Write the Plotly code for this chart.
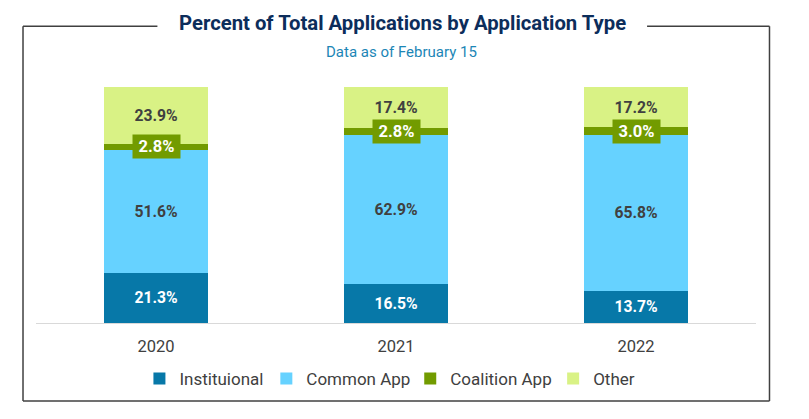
import plotly.graph_objects as go

years = ["2020", "2021", "2022"]
institutional = [21.3, 16.5, 13.7]
common_app = [51.6, 62.9, 65.8]
coalition_app = [2.8, 2.8, 3.0]
other = [23.9, 17.4, 17.2]

series_names = ["Instituional", "Common App", "Coalition App", "Other"]
colors = ["#0778a8", "#66d2ff", "#729b00", "#d9f285"]
label_colors = ["#ffffff", "#404040", "#ffffff", "#404040"]

# The page body adds an 8px offset, so the figure is placed accordingly
OFF = 8
W, H = 809 - OFF, 419 - OFF
L, R, T, B = 35.5 - OFF, 53, 86 - OFF, 96
pw = W - L - R
ph = H - T - B
FONT = "Roboto"

def px_x(p):
    return (p - OFF - L) / pw

def px_y(p):
    return (H - B - (p - OFF)) / ph

legend_ids = ["legend", "legend2", "legend3", "legend4"]
legend_text_starts = [179, 306, 450, 593]

fig = go.Figure()
all_series = [institutional, common_app, coalition_app, other]
for i, (name, vals) in enumerate(zip(series_names, all_series)):
    show_text = i != 2
    fig.add_trace(go.Bar(
        x=years, y=vals, name=name, legend=legend_ids[i],
        marker=dict(color=colors[i], line=dict(width=0)),
        text=[f"{v:.1f}%" for v in vals] if show_text else None,
        textposition="inside" if show_text else "none",
        insidetextanchor="middle",
        textangle=0,
        constraintext="none",
        textfont=dict(family=FONT, size=15.7, color=label_colors[i], weight="bold"),
        hoverinfo="skip",
    ))

# Coalition App labels as boxed annotations at segment centers
for j, yr in enumerate(years):
    base = institutional[j] + common_app[j]
    fig.add_annotation(
        x=j, y=base + coalition_app[j] / 2, xref="x", yref="y",
        text=f"<b>{coalition_app[j]:.1f}%</b>", showarrow=False,
        xanchor="center", yanchor="middle",
        font=dict(family=FONT, size=16.5, color="#ffffff"),
        bgcolor=colors[2], width=45, height=21, borderpad=1,
    )

# Title and subtitle
fig.add_annotation(
    x=px_x(402.5), y=px_y(22.6), xref="paper", yref="paper",
    text="<b>Percent of Total Applications by Application Type</b>",
    showarrow=False, xanchor="center", yanchor="middle",
    font=dict(family=FONT, size=20.3, color="#0c2d5b"),
)
fig.add_annotation(
    x=px_x(401.5), y=px_y(52), xref="paper", yref="paper",
    text="Data as of February 15",
    showarrow=False, xanchor="center", yanchor="middle",
    font=dict(family=FONT, size=15, color="#1c86b6"),
)

# Border frame with gap for title
bx0, bx1, by0, by1 = 22.5, 769.5, 26.3, 401
line_style = dict(color="#404040", width=1.5)
segments = [
    (bx0, by0, bx0, by1),
    (bx0, by1, bx1, by1),
    (bx1, by0, bx1, by1),
    (bx0, by0, 157, by0),
    (647, by0, bx1, by0),
]
for x0, y0, x1, y1 in segments:
    fig.add_shape(type="line", xref="paper", yref="paper",
                  x0=px_x(x0), y0=px_y(y0), x1=px_x(x1), y1=px_y(y1),
                  line=line_style)

legend_layout = {}
for lid, ts in zip(legend_ids, legend_text_starts):
    legend_layout[lid] = dict(
        orientation="h", x=px_x(ts - 40), xanchor="left", y=px_y(379), yanchor="middle",
        font=dict(family=FONT, size=17, color="#404040"),
        itemwidth=30, bgcolor="rgba(0,0,0,0)", borderwidth=0,
    )

fig.update_layout(
    width=W, height=H,
    margin=dict(l=L, r=R, t=T, b=B, pad=0),
    barmode="stack", bargap=0.57,
    plot_bgcolor="white", paper_bgcolor="white",
    font=dict(family=FONT, color="#404040"),
    showlegend=True,
    xaxis=dict(type="category", showgrid=False, showline=True, linecolor="#d9d9d9", linewidth=1,
               ticks="", tickfont=dict(family=FONT, size=16.5, color="#404040"),
               ticklabelstandoff=8,
               range=[-0.5, 2.5], fixedrange=True),
    yaxis=dict(range=[0, 100], showgrid=False, showticklabels=False, zeroline=False,
               showline=False, fixedrange=True),
    **legend_layout,
)

fig.write_html("out.html")
